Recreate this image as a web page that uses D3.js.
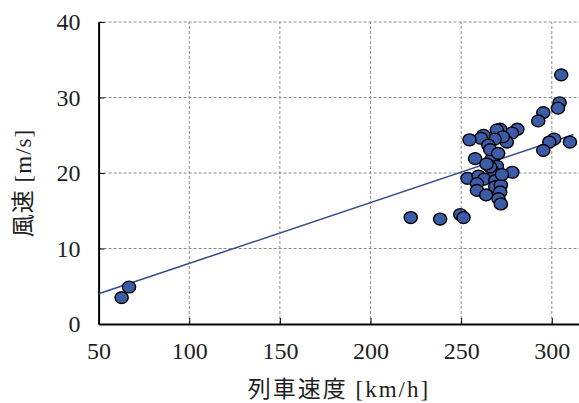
<!DOCTYPE html>
<html>
<head>
<meta charset="utf-8">
<script src="https://cdn.jsdelivr.net/npm/d3@7"></script>
<style>
  body { margin: 0; background: #fff; }
  svg text { font-family: "Liberation Serif", "DejaVu Serif", "Noto Sans CJK JP", serif; fill: #1e1e1e; }
</style>
</head>
<body>
<div id="chart"></div>
<script>
// train speed [km/h] vs wind speed [m/s]
const trainSpeed = [
  305.2, 304.3, 303.4, 295.3, 292.5, 310.0, 301.3, 298.6, 295.3,
  281.0, 278.0, 275.2, 271.5, 269.7, 273.0, 268.4, 262.3, 260.9, 254.6,
  265.0, 257.7, 270.0, 266.9, 269.7, 278.2, 268.4, 253.5, 259.6, 262.7,
  268.8, 258.7, 268.8, 271.9, 258.7, 263.8, 271.5, 270.6, 271.9, 266.0,
  266.0, 270.4, 264.0, 272.5, 249.5, 251.3, 238.4, 222.2, 62.7, 66.8
];
const windSpeed = [
  33.0, 29.3, 28.6, 28.0, 26.9, 24.1, 24.5, 24.1, 23.0,
  25.8, 25.3, 24.1, 25.8, 25.7, 24.8, 24.5, 25.0, 24.6, 24.4,
  23.7, 21.9, 22.6, 21.9, 20.9, 20.1, 20.0, 19.3, 19.6, 19.2,
  19.0, 18.6, 18.2, 18.4, 17.7, 17.1, 17.5, 16.6, 15.9, 23.1,
  20.8, 22.6, 21.2, 19.8, 14.5, 14.1, 13.9, 14.1, 3.5, 4.9
];
// fitted line end points
const trendX = [50, 312];
const trendY = [4.0, 25.1];

const xTicks = [50, 100, 150, 200, 250, 300];
const yTicks = [0, 10, 20, 30, 40];

const width = 579, height = 403;
const margin = { top: 22, right: 0, bottom: 79, left: 98.6 };

const svg = d3.select("#chart").append("svg")
  .attr("width", width)
  .attr("height", height);

const x = d3.scaleLinear().domain([50, 315]).range([margin.left, width - margin.right]);
const y = d3.scaleLinear().domain([0, 40]).range([height - margin.bottom, margin.top]);

// grid
svg.append("g").selectAll("line")
  .data(xTicks.filter(d => d > 50))
  .enter().append("line")
  .attr("x1", d => x(d)).attr("x2", d => x(d))
  .attr("y1", y(0)).attr("y2", y(40))
  .attr("stroke", "#8c8c8c").attr("stroke-width", 1)
  .attr("stroke-dasharray", "3,2");
svg.append("g").selectAll("line")
  .data(yTicks.filter(d => d > 0))
  .enter().append("line")
  .attr("x1", x(50)).attr("x2", width)
  .attr("y1", d => y(d)).attr("y2", d => y(d))
  .attr("stroke", "#8c8c8c").attr("stroke-width", 1)
  .attr("stroke-dasharray", "3,2");

// axes
const axX = svg.append("g")
  .attr("transform", `translate(0,${y(0)})`)
  .call(d3.axisBottom(x).tickValues(xTicks).tickSizeInner(-6).tickSizeOuter(0).tickPadding(20));
const axY = svg.append("g")
  .attr("transform", `translate(${x(50)},0)`)
  .call(d3.axisLeft(y).tickValues(yTicks).tickSizeInner(-6).tickSizeOuter(0).tickPadding(18));

[axX, axY].forEach(ax => {
  ax.select(".domain").attr("stroke", "#000").attr("stroke-width", 2);
  ax.selectAll(".tick line").attr("stroke", "#000").attr("stroke-width", 1);
  ax.selectAll(".tick text").attr("font-size", 24).attr("fill", "#1e1e1e");
});
axX.selectAll(".tick text").attr("dy", "0.62em");
axY.selectAll(".tick text").attr("dy", "0.32em");

// trend line
svg.append("line")
  .attr("x1", x(trendX[0])).attr("y1", y(trendY[0]))
  .attr("x2", x(trendX[1])).attr("y2", y(trendY[1]))
  .attr("stroke", "#2f4b8c").attr("stroke-width", 1.5);

// points
svg.append("g").selectAll("ellipse")
  .data(trainSpeed.map((v, i) => ({ v: v, w: windSpeed[i] })))
  .enter().append("ellipse")
  .attr("cx", d => x(d.v))
  .attr("cy", d => y(d.w))
  .attr("rx", 6.6).attr("ry", 5.9)
  .attr("fill", "#3d5ca8")
  .attr("stroke", "#000").attr("stroke-width", 1.4);

// titles
svg.append("text")
  .attr("x", 339).attr("y", 397)
  .attr("text-anchor", "middle")
  .attr("font-size", 23)
  .attr("letter-spacing", 2)
  .text("列車速度 [km/h]");
svg.append("text")
  .attr("transform", `translate(31,183) rotate(-90)`)
  .attr("text-anchor", "middle")
  .attr("font-size", 23)
  .attr("letter-spacing", 1)
  .text("風速 [m/s]");
</script>
</body>
</html>
